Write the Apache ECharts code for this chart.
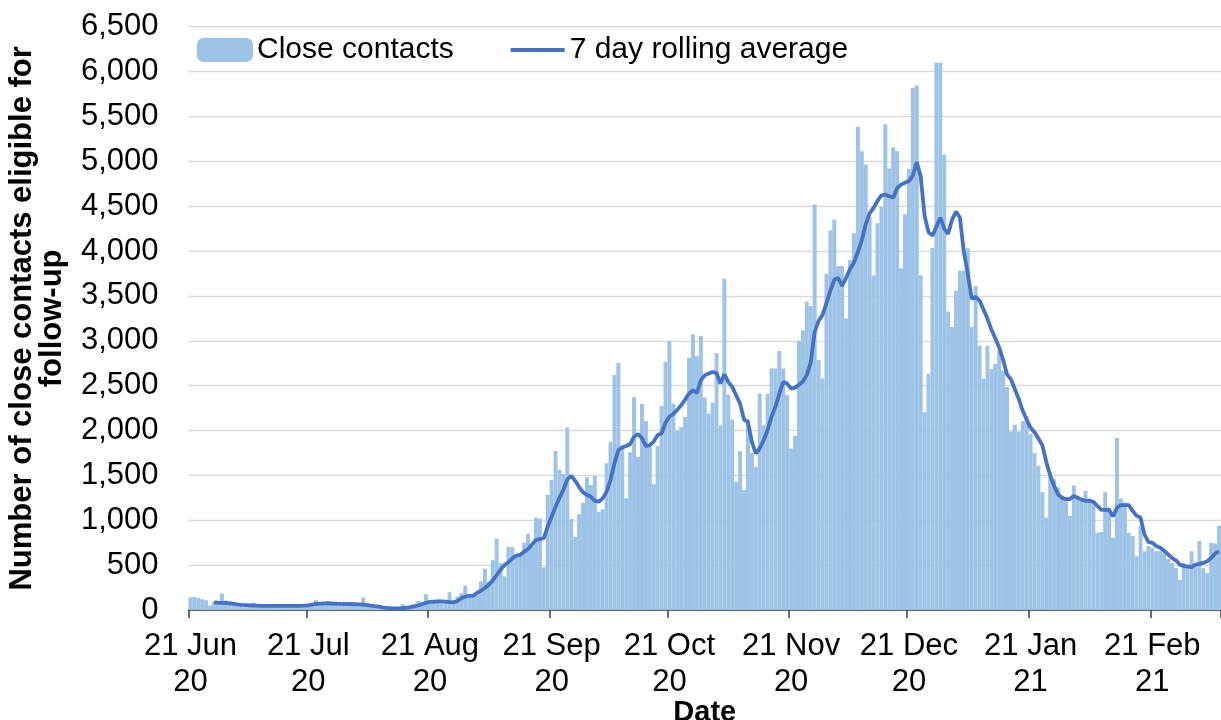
<!DOCTYPE html>
<html>
<head>
<meta charset="utf-8">
<script src="https://cdn.jsdelivr.net/npm/echarts@6/dist/echarts.min.js"></script>
<style>
html,body{margin:0;padding:0;background:#ffffff;}
#chart{width:1221px;height:720px;}
</style>
</head>
<body>
<div id="chart"></div>
<script>
// ---- Data ----
const firstDay = [2020, 5, 21];   // 21 Jun 2020 (month is 0-based)
const dayCount = 263;             // daily categories up to 10 Mar 2021
const monthNames = ['Jan','Feb','Mar','Apr','May','Jun','Jul','Aug','Sep','Oct','Nov','Dec'];

const closeContacts = [
  140,145,135,120,110,50,95,90,185,105,
  100,80,70,60,55,50,80,45,45,50,
  65,45,40,45,65,45,45,40,45,45,
  50,55,110,75,85,100,95,80,75,70,
  80,75,65,60,140,60,45,40,35,30,
  25,20,20,25,65,30,45,60,100,85,
  175,110,105,115,110,105,198,112,150,187,
  273,168,165,170,318,460,318,554,794,524,
  375,704,700,618,615,749,850,711,1030,1020,
  476,1284,1448,1771,1560,1515,2035,1014,817,1066,
  1195,1478,1392,1493,1095,1122,1634,1875,2618,2755,
  1827,1244,1757,2370,1708,2295,2105,1819,1400,1827,
  2272,2766,3000,2300,2000,2040,2150,2812,3072,2827,
  3053,2367,2189,2311,2864,2059,3691,2400,2122,1428,
  1770,1336,2122,1750,1595,2411,2059,2411,2690,2690,
  2886,2690,2393,1800,1943,3000,3115,3435,3388,4519,
  2785,2577,3748,4230,4351,3830,3837,3247,3900,4199,
  5386,5113,4961,4383,3729,4311,4491,5414,4921,5153,
  5113,3809,4411,4913,5816,5844,3729,2203,2633,4037,
  6097,6097,5073,3327,3155,3557,3781,3781,4030,3155,
  3609,2946,2577,2946,2685,2745,2886,2665,2484,1990,
  2063,1990,2103,2163,1962,1750,1610,1311,1030,1535,
  1460,1367,1273,1255,1049,1386,1255,1236,1330,1243,
  1198,861,869,1311,1142,805,1917,1243,1198,861,
  824,600,936,655,712,693,655,655,629,569,
  524,468,337,524,468,655,487,768,468,412,
  749,742,936
];

const rollingAverage = [
  null,null,null,null,null,null,85,82,80,78,
  74,68,62,58,55,52,50,48,46,45,
  45,45,45,45,46,46,45,45,46,48,
  52,60,67,70,74,74,72,70,68,67,
  67,66,64,62,60,55,48,42,37,30,
  24,20,18,18,20,25,32,40,50,65,
  80,90,94,96,96,94,88,84,100,131,
  150,157,160,190,215,245,281,330,390,450,
  500,532,575,605,615,650,680,730,780,790,
  800,930,1040,1150,1250,1340,1456,1493,1440,1370,
  1310,1281,1263,1215,1207,1244,1318,1448,1634,1783,
  1812,1827,1850,1931,1961,1913,1827,1838,1876,1950,
  1968,2087,2154,2184,2230,2282,2345,2411,2449,2419,
  2560,2615,2634,2652,2641,2523,2627,2541,2486,2393,
  2300,2122,2096,1873,1744,1800,1892,2003,2152,2263,
  2411,2541,2523,2467,2478,2510,2545,2620,2760,3100,
  3220,3287,3420,3560,3680,3700,3610,3700,3800,3870,
  3990,4120,4300,4420,4480,4560,4620,4630,4610,4595,
  4700,4740,4760,4780,4840,4993,4833,4391,4211,4171,
  4271,4371,4251,4191,4351,4440,4371,3990,3749,3468,
  3488,3448,3348,3247,3127,3027,2926,2786,2625,2570,
  2460,2350,2220,2120,2030,1980,1910,1835,1650,1500,
  1380,1290,1250,1236,1236,1270,1250,1230,1217,1217,
  1206,1160,1116,1116,1116,1041,1140,1168,1168,1168,
  1105,1049,1030,843,760,749,712,693,660,620,
  580,554,506,490,487,479,506,515,524,543,
  580,629,655
];

const seriesNames = ['Close contacts', '7 day rolling average'];
const yAxisTitle = 'Number of close contacts eligible for\nfollow-up';
const xAxisTitle = 'Date';
const labelDayOfMonth = 21;

// ---- Categories (daily dates) ----
const categories = [];
for (let i = 0; i < dayCount; i++) {
  const d = new Date(Date.UTC(firstDay[0], firstDay[1], firstDay[2] + i));
  categories.push(d.toISOString().slice(0, 10));
}
function isLabelDay(idx, value) {
  return +value.slice(8, 10) === labelDayOfMonth;
}
function formatDate(value) {
  const y = value.slice(2, 4), m = +value.slice(5, 7), d = +value.slice(8, 10);
  return d + ' ' + monthNames[m - 1] + '\n' + y;
}

const FONT = '"Liberation Sans", Arial, Helvetica, sans-serif';
const LINE_COLOR = '#4472C4';
const chart = echarts.init(document.getElementById('chart'), null, {renderer: 'canvas'});
chart.setOption({
  animation: false,
  backgroundColor: '#ffffff',
  textStyle: {fontFamily: FONT},
  grid: {left: 188.5, right: 0, top: 26.7, bottom: 110, containLabel: false, outerBoundsMode: 'none'},
  legend: {
    left: 197, top: 35, padding: 0,
    itemWidth: 54, itemHeight: 22, itemGap: 55,
    textStyle: {fontSize: 30, color: '#000000', fontFamily: FONT},
    data: [
      {name: seriesNames[0]},
      {name: seriesNames[1], itemStyle: {opacity: 0}, lineStyle: {width: 3.8, color: LINE_COLOR}}
    ]
  },
  xAxis: {
    type: 'category',
    data: categories,
    boundaryGap: true,
    name: xAxisTitle,
    nameLocation: 'middle',
    nameGap: 88,
    nameMoveOverlap: false,
    nameTextStyle: {fontSize: 29, fontWeight: 'bold', color: '#000000', fontFamily: FONT, lineHeight: 30},
    axisLine: {show: true, lineStyle: {color: '#404040', width: 1.5}},
    axisTick: {show: true, interval: isLabelDay, length: 8, lineStyle: {color: '#404040', width: 1.5}},
    axisLabel: {
      interval: isLabelDay,
      formatter: formatDate,
      fontSize: 31, lineHeight: 36, color: '#000000', margin: 18, fontFamily: FONT
    },
    splitLine: {show: false}
  },
  yAxis: {
    type: 'value',
    min: 0, max: 6500, interval: 500,
    name: yAxisTitle,
    nameLocation: 'middle',
    nameGap: 121,
    nameMoveOverlap: false,
    nameTextStyle: {fontSize: 31, fontWeight: 'bold', color: '#000000', fontFamily: FONT, lineHeight: 30},
    axisLine: {show: false},
    axisTick: {show: false},
    axisLabel: {
      fontSize: 31, color: '#000000', margin: 30, fontFamily: FONT,
      formatter: function (v) { return v.toLocaleString('en-US'); }
    },
    splitLine: {show: true, lineStyle: {color: '#D9D9D9', width: 1.3}}
  },
  series: [
    {
      name: seriesNames[0],
      type: 'bar',
      data: closeContacts,
      barCategoryGap: '0%',
      itemStyle: {color: '#9DC3E6', borderColor: '#9DC3E6', borderWidth: 1.2},
      z: 2
    },
    {
      name: seriesNames[1],
      type: 'line',
      data: rollingAverage,
      symbol: 'none',
      showSymbol: false,
      connectNulls: false,
      lineStyle: {color: LINE_COLOR, width: 3.8},
      itemStyle: {color: LINE_COLOR},
      z: 3
    }
  ]
});
</script>
</body>
</html>
